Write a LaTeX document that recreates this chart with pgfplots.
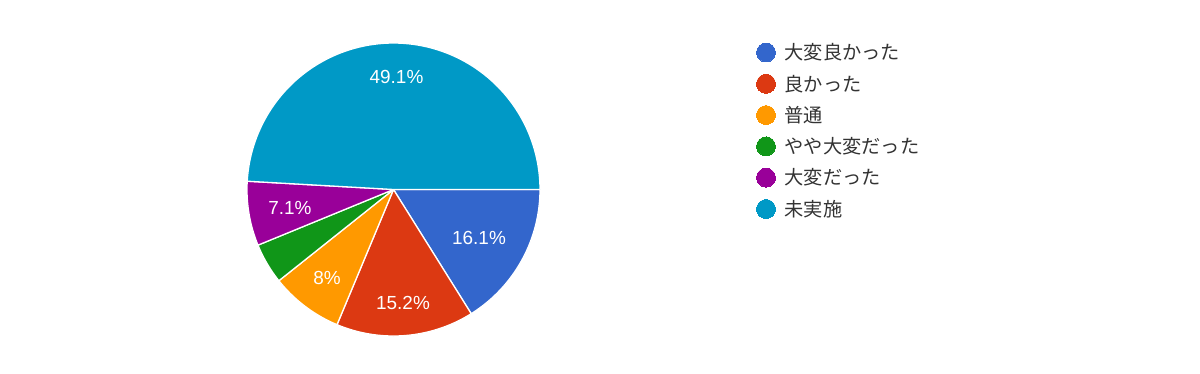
\documentclass[border=0pt]{standalone}
\usepackage{pgfplots}
\pgfplotsset{compat=1.18}
\usepackage{fontspec}
\setmainfont{Liberation Sans}
\newfontfamily\cjk{Noto Sans CJK JP}
\definecolor{gblue}{HTML}{3366CC}
\definecolor{gred}{HTML}{DC3912}
\definecolor{gorange}{HTML}{FF9900}
\definecolor{ggreen}{HTML}{109618}
\definecolor{gpurple}{HTML}{990099}
\definecolor{gcyan}{HTML}{0099C6}
\definecolor{legtext}{HTML}{333333}
% slice: cumulative start (%), value (%), colour
\newcommand\pieslice[3]{%
  \addplot[fill=#3, draw=white, line width=1.3pt, line join=round,
    domain={-3.6*(#1+#2)}:{-3.6*(#1)}, samples=100, variable=\t]
    ({393.5+146.5*cos(\t)},{189.5-146.5*sin(\t)}) -- (axis cs:393.5,189.5) -- cycle;}
\newcommand\legentry[3]{% y, colour, text
  \addplot[color=#2, only marks, mark=*, mark size=9.5pt, mark options={fill=#2, draw=#2, line width=0pt}] coordinates {(766,#1)};
  \node[anchor=west, text=legtext, font=\cjk\fontsize{19.3}{21}\selectfont, inner sep=0pt] at (axis cs:784.5,#1) {#3};}
\begin{document}
\begin{tikzpicture}
\begin{axis}[
  scale only axis, width=1200bp, height=373bp,
  xmin=0, xmax=1200, ymin=0, ymax=373, y dir=reverse,
  hide axis, clip=false]
\path (axis cs:0,0) rectangle (axis cs:1200,373);
\pieslice{0}{16.1}{gblue}
\pieslice{16.1}{15.2}{gred}
\pieslice{31.3}{8}{gorange}
\pieslice{39.3}{4.5}{ggreen}
\pieslice{43.8}{7.1}{gpurple}
\pieslice{50.9}{49.1}{gcyan}
\begin{scope}[every node/.style={text=white, font=\fontsize{19}{20}\selectfont}]
\node at (axis cs:396.5,76.5) {49.1\%};
\node at (axis cs:479,237.5) {16.1\%};
\node at (axis cs:403,303) {15.2\%};
\node at (axis cs:327,278) {8\%};
\node at (axis cs:290,208) {7.1\%};
\end{scope}
\legentry{52.5}{gblue}{大変良かった}
\legentry{83.8}{gred}{良かった}
\legentry{115.1}{gorange}{普通}
\legentry{146.4}{ggreen}{やや大変だった}
\legentry{177.7}{gpurple}{大変だった}
\legentry{209}{gcyan}{未実施}
\end{axis}
\end{tikzpicture}
\end{document}
